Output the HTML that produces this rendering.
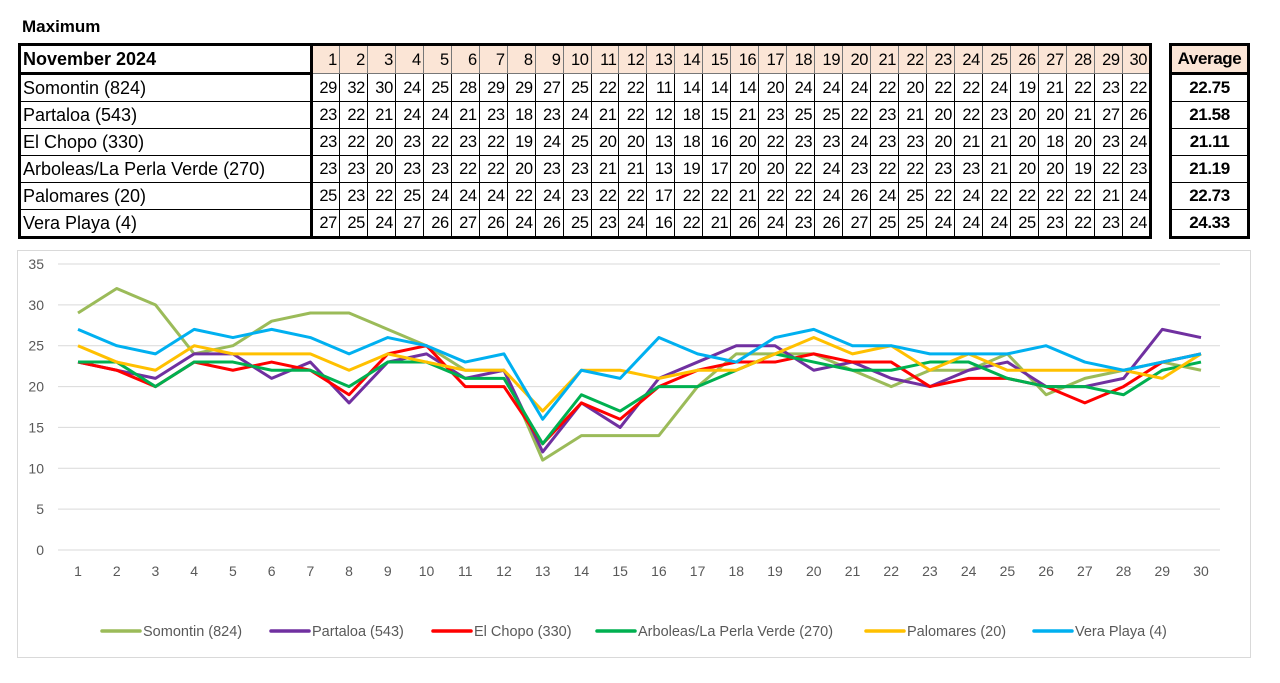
<!DOCTYPE html>
<html><head><meta charset="utf-8">
<style>
body{margin:0;width:1280px;height:683px;background:#fff;font-family:"Liberation Sans",sans-serif;position:relative;overflow:hidden}
#title{position:absolute;left:22px;top:17px;font-size:17px;font-weight:bold;color:#000}
table{border-collapse:collapse;table-layout:fixed;position:absolute}
td{border:1px solid #000;padding:0 2px;font-size:16.5px;height:26px;line-height:26px;white-space:nowrap;overflow:hidden;letter-spacing:-0.4px}
#main{left:18px;top:43px;width:1134px;border:3px solid #000}
#main td.d{text-align:right;padding:0 2px 0 0}
#main tr.h td.d{background:#fbe5d6;border:1px solid #777}
#main td.n{border-right:3px solid #000;font-size:18px;letter-spacing:0}
#main tr.h td{border-bottom:3px solid #000}
#avg{left:1169px;top:43px;width:81px;border:3px solid #000}
#avg td{text-align:center;font-weight:bold;font-size:17px}
#avg tr.h td{background:#fbe5d6;border-bottom:3px solid #000}
#chartbox{position:absolute;left:17px;top:250px;width:1232px;height:406px;border:1px solid #d9d9d9}
</style></head><body>
<div id="title">Maximum</div>
<table id="main"><colgroup><col style="width:292px"></colgroup><tbody id="mb"></tbody></table>
<table id="avg"><tbody id="ab"></tbody></table>
<div id="chartbox"></div>
<svg id="chart" width="1280" height="683" style="position:absolute;left:0;top:0"></svg>
<script>
const days=[1,2,3,4,5,6,7,8,9,10,11,12,13,14,15,16,17,18,19,20,21,22,23,24,25,26,27,28,29,30];
const names=["Somontin (824)","Partaloa (543)","El Chopo (330)","Arboleas/La Perla Verde (270)","Palomares (20)","Vera Playa (4)"];
const somontin=[29,32,30,24,25,28,29,29,27,25,22,22,11,14,14,14,20,24,24,24,22,20,22,22,24,19,21,22,23,22];
const partaloa=[23,22,21,24,24,21,23,18,23,24,21,22,12,18,15,21,23,25,25,22,23,21,20,22,23,20,20,21,27,26];
const elchopo=[23,22,20,23,22,23,22,19,24,25,20,20,13,18,16,20,22,23,23,24,23,23,20,21,21,20,18,20,23,24];
const arboleas=[23,23,20,23,23,22,22,20,23,23,21,21,13,19,17,20,20,22,24,23,22,22,23,23,21,20,20,19,22,23];
const palomares=[25,23,22,25,24,24,24,22,24,23,22,22,17,22,22,21,22,22,24,26,24,25,22,24,22,22,22,22,21,24];
const vera=[27,25,24,27,26,27,26,24,26,25,23,24,16,22,21,26,24,23,26,27,25,25,24,24,24,25,23,22,23,24];
const averages=["22.75","21.58","21.11","21.19","22.73","24.33"];
const yTicks=[0,5,10,15,20,25,30,35];
const colors=["#9bbb59","#7030a0","#ff0000","#00b050","#ffc000","#00b0f0"];
const series=[somontin,partaloa,elchopo,arboleas,palomares,vera];
const slug=["somontin","partaloa","el-chopo","arboleas","palomares","vera-playa"];

const mb=document.getElementById('mb'),ab=document.getElementById('ab');
let h='<tr class="h"><td class="n"><b>November 2024</b></td>';
days.forEach(d=>h+='<td class="d">'+d+'</td>');
mb.innerHTML=h+'</tr>'+names.map((n,i)=>'<tr><td class="n">'+n+'</td>'+series[i].map(v=>'<td class="d">'+v+'</td>').join('')+'</tr>').join('');
ab.innerHTML='<tr class="h"><td>Average</td></tr>'+averages.map(a=>'<tr><td>'+a+'</td></tr>').join('');

const svg=document.getElementById('chart'),NS='http://www.w3.org/2000/svg';
const X0=78,X1=1201,Y0=550,Y35=264;
const x=d=>X0+(d-1)*(X1-X0)/29;
const y=v=>Y0-(v/35)*(Y0-Y35);
function mk(t,a,txt){const e=document.createElementNS(NS,t);for(const k in a)e.setAttribute(k,a[k]);if(txt!=null)e.textContent=txt;svg.appendChild(e);return e;}
yTicks.forEach(t=>{
 const g=mk('line',{x1:58,x2:1220,y1:y(t),y2:y(t),stroke:'#d9d9d9','stroke-width':1});
 
 
 const l=mk('text',{x:44,y:y(t)+5,'text-anchor':'end','font-size':14,fill:'#595959','font-family':'Liberation Sans'},t);
 
 
});
days.forEach(d=>{
 const l=mk('text',{x:x(d),y:576,'text-anchor':'middle','font-size':14,fill:'#595959','font-family':'Liberation Sans'},d);
 
 
});
series.forEach((s,i)=>{
 const p=mk('polyline',{points:s.map((v,j)=>x(days[j])+','+y(v)).join(' '),fill:'none',stroke:colors[i],'stroke-width':3,'stroke-linejoin':'round'});
 
 
});
const lx=[102,271,433,597,866,1034];
names.forEach((n,i)=>{
 const l=mk('line',{x1:lx[i],x2:lx[i]+38,y1:631,y2:631,stroke:colors[i],'stroke-width':3.5,'stroke-linecap':'round'});
 
 
 const t=mk('text',{x:lx[i]+41,y:636,'font-size':14.5,fill:'#595959','font-family':'Liberation Sans'},n);
 
 
});
</script>
</body></html>
